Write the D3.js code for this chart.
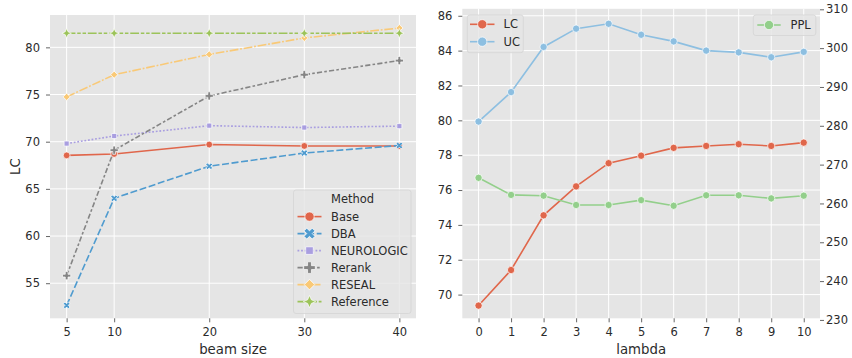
<!DOCTYPE html>
<html>
<head>
<meta charset="utf-8">
<script src="https://cdn.jsdelivr.net/npm/d3@7"></script>
<style>
  body { margin: 0; background: #fff; }
  svg { font-family: "DejaVu Sans", sans-serif; }
</style>
</head>
<body>
<svg id="chart" width="852" height="358"></svg>
<script>
// left panel: LC by beam size
const beamSizes = [5, 10, 20, 30, 40];
const methods = ["Base", "DBA", "NEUROLOGIC", "Rerank", "RESEAL", "Reference"];
const lcBase = [68.55, 68.7, 69.7, 69.55, 69.55];
const lcDBA = [52.65, 64.0, 67.4, 68.8, 69.6];
const lcNeurologic = [69.8, 70.6, 71.7, 71.5, 71.65];
const lcRerank = [55.8, 69.1, 74.85, 77.1, 78.6];
const lcReseal = [74.75, 77.1, 79.25, 81.0, 82.05];
const lcReference = [81.5, 81.5, 81.5, 81.5, 81.5];
const leftXTicks = [5, 10, 20, 30, 40];
const leftYTicks = [55, 60, 65, 70, 75, 80];

// right panel: lambda sweep
const lambdas = [0, 1, 2, 3, 4, 5, 6, 7, 8, 9, 10];
const lambdaLC = [69.37, 71.41, 74.55, 76.21, 77.54, 77.97, 78.42, 78.53, 78.63, 78.53, 78.72];
const lambdaUC = [79.93, 81.62, 84.21, 85.26, 85.54, 84.91, 84.53, 84.0, 83.9, 83.62, 83.93];
const lambdaPPL = [266.6, 262.2, 262.0, 259.6, 259.6, 260.85, 259.4, 262.1, 262.1, 261.3, 262.0];
const rightYTicks = [70, 72, 74, 76, 78, 80, 82, 84, 86];
const pplTicks = [230, 240, 250, 260, 270, 280, 290, 300, 310];

const svg = d3.select("#chart");
const tickFont = 11.5, labelFont = 13.3;

// marker shapes (roughly seaborn's default marker cycle)
function markerPath(shape, size) {
  if (shape === "circle") return d3.symbol(d3.symbolCircle, size)();
  if (shape === "square") return d3.symbol(d3.symbolSquare, size * 0.85)();
  if (shape === "plus" || shape === "x") return d3.symbol(d3.symbolCross, size * 1.1)();
  if (shape === "diamond") return d3.symbol(d3.symbolSquare, size * 0.8)();
  // four pointed star
  const r = Math.sqrt(size) * 0.75, q = r * 0.3;
  return `M0,${-r}L${q},${-q}L${r},0L${q},${q}L0,${r}L${-q},${q}L${-r},0L${-q},${-q}Z`;
}
function markerRot(shape) {
  return (shape === "x" || shape === "diamond") ? 45 : 0;
}

function panel(box) {
  const g = svg.append("g");
  g.append("rect")
    .attr("x", box.x0).attr("y", box.y0)
    .attr("width", box.x1 - box.x0).attr("height", box.y1 - box.y0)
    .attr("fill", "#E5E5E5");
  return g;
}

function gridAndAxes(g, box, x, y, xTicks, yTicks) {
  g.selectAll(".vgrid").data(xTicks).enter().append("line")
    .attr("x1", d => x(d)).attr("x2", d => x(d))
    .attr("y1", box.y0).attr("y2", box.y1)
    .attr("stroke", "#fff").attr("stroke-width", 1);
  g.selectAll(".hgrid").data(yTicks).enter().append("line")
    .attr("x1", box.x0).attr("x2", box.x1)
    .attr("y1", d => y(d)).attr("y2", d => y(d))
    .attr("stroke", "#fff").attr("stroke-width", 1);

  const xa = g.append("g")
    .attr("transform", "translate(0," + box.y1 + ")")
    .call(d3.axisBottom(x).tickValues(xTicks).tickSize(4).tickPadding(6));
  const ya = g.append("g")
    .attr("transform", "translate(" + box.x0 + ",0)")
    .call(d3.axisLeft(y).tickValues(yTicks).tickSize(4).tickPadding(6));
  styleAxis(xa);
  styleAxis(ya);
}

function styleAxis(a) {
  a.select(".domain").remove();
  a.selectAll(".tick line").attr("stroke", "#555").attr("stroke-width", 0.9);
  a.selectAll(".tick text")
    .attr("fill", "#2b2b2b")
    .style("font-size", tickFont + "px")
    .style("font-family", "DejaVu Sans");
}

function drawSeries(g, xs, ys, x, y, s) {
  const line = d3.line().x((d, i) => x(xs[i])).y(d => y(d));
  g.append("path")
    .datum(ys)
    .attr("d", line)
    .attr("fill", "none")
    .attr("stroke", s.color)
    .attr("stroke-width", 1.6)
    .attr("stroke-dasharray", s.dash || null);
  g.selectAll(null).data(ys).enter().append("path")
    .attr("d", markerPath(s.shape, s.msize || 30))
    .attr("transform", (d, i) => "translate(" + x(xs[i]) + "," + y(d) + ") rotate(" + markerRot(s.shape) + ")")
    .attr("fill", s.color)
    .attr("stroke", "#fff")
    .attr("stroke-width", 0.7);
}

function legend(g, rect, items, opts) {
  g.append("rect")
    .attr("x", rect.x).attr("y", rect.y)
    .attr("width", rect.w).attr("height", rect.h)
    .attr("rx", 2.5)
    .attr("fill", "#E5E5E5").attr("fill-opacity", 0.8)
    .attr("stroke", "#d4d4d4").attr("stroke-width", 0.8);
  if (opts.title) {
    g.append("text")
      .attr("x", opts.textX).attr("y", opts.titleY).attr("dy", "0.35em")
      .attr("fill", "#2b2b2b").style("font-size", tickFont + "px")
      .text(opts.title);
  }
  items.forEach((s, i) => {
    const cy = opts.y0 + i * opts.step;
    g.append("line")
      .attr("x1", opts.hx0).attr("x2", opts.hx1)
      .attr("y1", cy).attr("y2", cy)
      .attr("stroke", s.color).attr("stroke-width", 1.6)
      .attr("stroke-dasharray", s.dash || null);
    g.append("path")
      .attr("d", markerPath(s.shape, 68))
      .attr("transform", "translate(" + (opts.hx0 + opts.hx1) / 2 + "," + cy + ") rotate(" + markerRot(s.shape) + ")")
      .attr("fill", s.color)
      .attr("stroke", "#fff").attr("stroke-width", 0.7);
    g.append("text")
      .attr("x", opts.textX).attr("y", cy).attr("dy", "0.35em")
      .attr("fill", "#2b2b2b").style("font-size", tickFont + "px")
      .text(s.label);
  });
}

// ---------- left panel ----------
const lbox = {x0: 50, x1: 416, y0: 15, y1: 318.3};
const lx = d3.scaleLinear().domain([3.25, 41.75]).range([lbox.x0, lbox.x1]);
const ly = d3.scaleLinear().domain([51.28, 83.43]).range([lbox.y1, lbox.y0]);
const lg = panel(lbox);
gridAndAxes(lg, lbox, lx, ly, leftXTicks, leftYTicks);

const leftSeries = [
  {label: methods[0], values: lcBase, color: "#e0664b", dash: null, shape: "circle", msize: 36},
  {label: methods[1], values: lcDBA, color: "#4f9bcf", dash: "7,2.6", shape: "x", msize: 26},
  {label: methods[2], values: lcNeurologic, color: "#a99ee0", dash: "1.8,1.8", shape: "square", msize: 30},
  {label: methods[3], values: lcRerank, color: "#858585", dash: "5.2,2.2,2.6,2.2", shape: "plus", msize: 34},
  {label: methods[4], values: lcReseal, color: "#f9c977", dash: "8.8,1.8,1.8,1.8", shape: "diamond", msize: 32},
  {label: methods[5], values: lcReference, color: "#9cc35a", dash: "8.8,1.8,3.5,1.8,3.5,1.8", shape: "star", msize: 40}
];
leftSeries.forEach(s => drawSeries(lg, beamSizes, s.values, lx, ly, s));

legend(lg, {x: 293.5, y: 190, w: 117.5, h: 123.5}, leftSeries,
  {title: "Method", titleY: 199.3, y0: 216.6, step: 17, hx0: 297.5, hx1: 321.5, textX: 331});

lg.append("text")
  .attr("transform", "translate(15," + (lbox.y0 + lbox.y1) / 2 + ") rotate(-90)")
  .attr("text-anchor", "middle").attr("dy", "0.36em")
  .attr("fill", "#2b2b2b").style("font-size", labelFont + "px")
  .text("LC");
lg.append("text")
  .attr("x", (lbox.x0 + lbox.x1) / 2).attr("y", 354)
  .attr("text-anchor", "middle")
  .attr("fill", "#2b2b2b").style("font-size", labelFont + "px")
  .text("beam size");

// ---------- right panel ----------
const rbox = {x0: 462.3, x1: 820, y0: 8.8, y1: 318.3};
const rx = d3.scaleLinear().domain([-0.5, 10.5]).range([rbox.x0, rbox.x1]);
const ry = d3.scaleLinear().domain([68.64, 86.4]).range([rbox.y1, rbox.y0]);
const rp = d3.scaleLinear().domain([230.42, 310.13]).range([rbox.y1, rbox.y0]);
const rg = panel(rbox);
gridAndAxes(rg, rbox, rx, ry, lambdas, rightYTicks);

const pplAxis = rg.append("g")
  .attr("transform", "translate(" + rbox.x1 + ",0)")
  .call(d3.axisRight(rp).tickValues(pplTicks).tickSize(4).tickPadding(2));
styleAxis(pplAxis);

const lcSeries = {label: "LC", color: "#e0674b", shape: "circle", msize: 42};
const ucSeries = {label: "UC", color: "#8dbfe1", shape: "circle", msize: 42};
const pplSeries = {label: "PPL", color: "#93cf8b", shape: "circle", msize: 42};
drawSeries(rg, lambdas, lambdaLC, rx, ry, lcSeries);
drawSeries(rg, lambdas, lambdaUC, rx, ry, ucSeries);
drawSeries(rg, lambdas, lambdaPPL, rx, rp, pplSeries);

legend(rg, {x: 467.3, y: 15, w: 56, h: 37.7}, [lcSeries, ucSeries],
  {y0: 24.3, step: 17.4, hx0: 470, hx1: 494.5, textX: 503.5});
legend(rg, {x: 753.3, y: 15, w: 62.5, h: 20.5}, [pplSeries],
  {y0: 25, step: 17.4, hx0: 757.3, hx1: 780.7, textX: 790.5});

rg.append("text")
  .attr("x", (rbox.x0 + rbox.x1) / 2).attr("y", 354)
  .attr("text-anchor", "middle")
  .attr("fill", "#2b2b2b").style("font-size", labelFont + "px")
  .text("lambda");
</script>
</body>
</html>
